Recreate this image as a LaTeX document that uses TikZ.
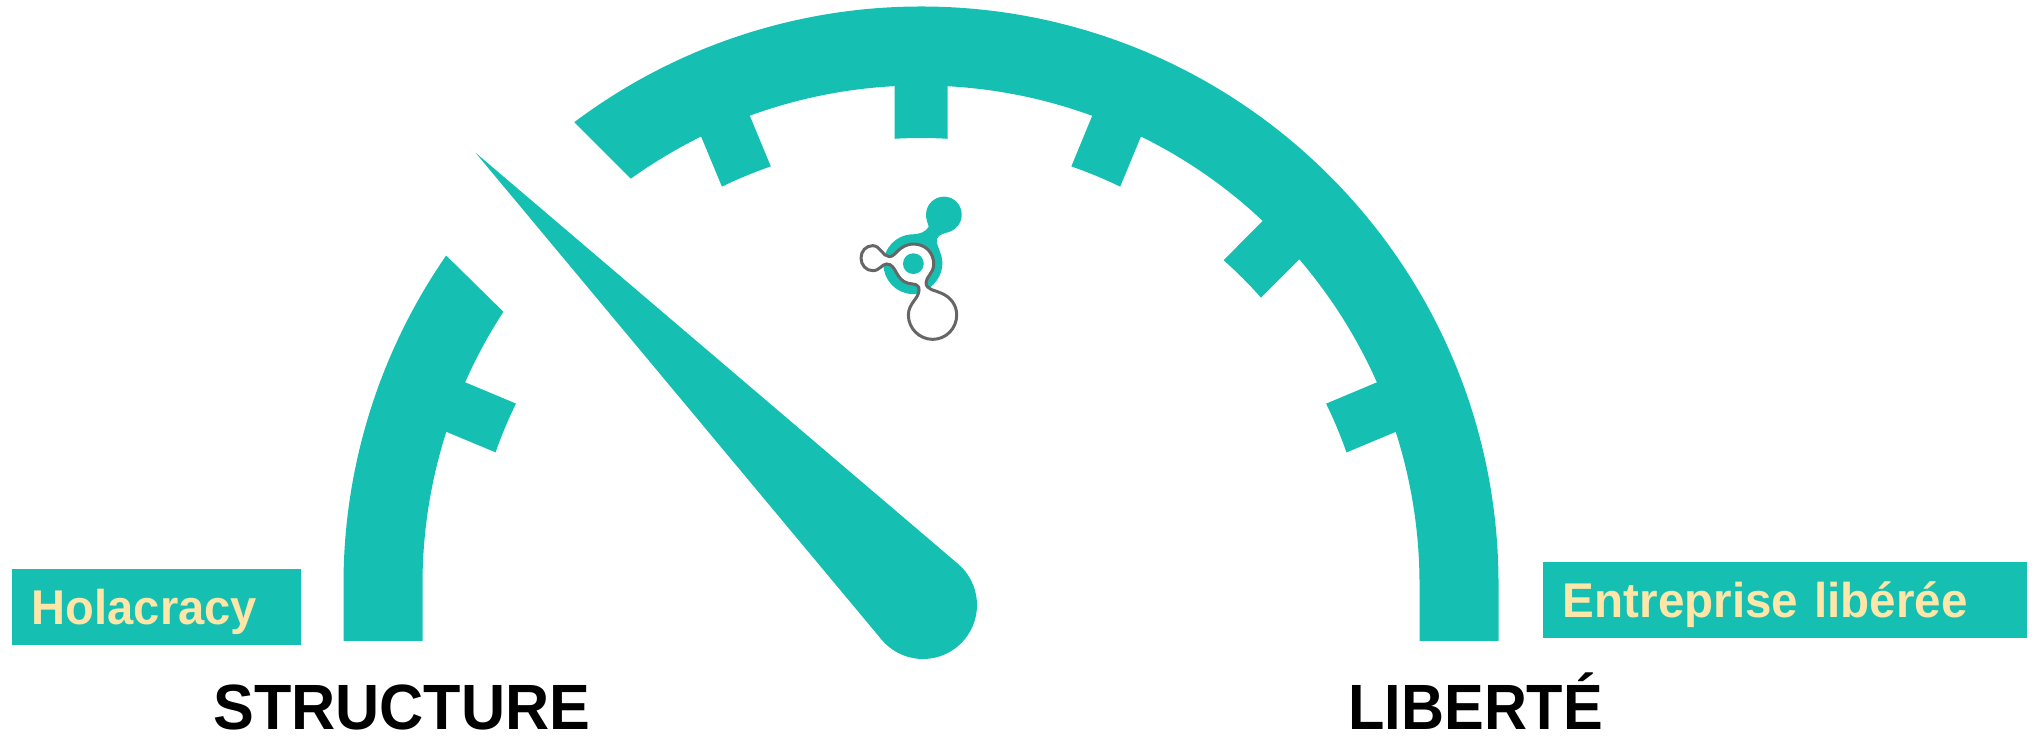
\documentclass[tikz,border=0pt]{standalone}
\usepackage{fontspec}
\usetikzlibrary{calc}
\setmainfont{Liberation Sans}
\definecolor{teal1}{HTML}{15C0B3}
\definecolor{cream}{HTML}{FDE6A8}
\definecolor{logogray}{HTML}{666666}
\tikzset{
  gauge/.style={fill=teal1,draw=none},
  tagbox/.style={fill=teal1,text=cream,inner ysep=0pt,inner xsep=10pt,anchor=base west,align=left,font=\fontsize{24.4}{28}\selectfont\bfseries,text height=28pt,text depth=10pt},
  axislabel/.style={inner sep=0pt,anchor=base west,text=black,font=\fontsize{32}{36}\selectfont\bfseries},
  tickmark/.pic={
    \fill[teal1] (80,-26.5) -- (-0.8,-26.5) arc[start angle=-3.4,end angle=3.4,radius=223pt] -- (80,26.5) -- cycle;
  }
}
\begin{document}
\begin{tikzpicture}[x=0.5pt,y=0.5pt]
\useasboundingbox (0,0) rectangle (2037,737);
% gauge arcs
\begin{scope}[shift={(921,153)}]
  \fill[gauge] (-577.5,-57) -- (-577.5,0) arc[start angle=180,end angle=145.3,radius=288.5pt]
     -- (146.9:498.5) arc[start angle=146.9,end angle=180,radius=249.25pt] -- (-498.5,-57) -- cycle;
  \fill[gauge] (577.5,-57) -- (577.5,0) arc[start angle=0,end angle=126.9,radius=288.75pt]
     -- (125.6:498.5) arc[start angle=125.6,end angle=0,radius=249.25pt] -- (498.5,-57) -- cycle;
  \foreach \px/\py/\a in {-416/156.3/157.3,-175/408.2/112.5,0/446/90,175/408.2/67.5,321.8/305.7/45,416/156.3/22.7}
    \pic[shift={(\px,\py)},rotate=\a] {tickmark};
\end{scope}
% needle
\fill[gauge] (475.5,584.3) -- ($(923,132)+(49.57:54)$) arc[start angle=49.57,end angle=-140.17,radius=27pt] -- cycle;
% logo
\begin{scope}[shift={(820,557)},x=0.1667pt,y=-0.1667pt]
  \fill[teal1] (318,104) .. controls (318,74) and (342,50) .. (372,50) .. controls (402,50) and (425,74) .. (425,104) .. controls (425,132) and (405,152) .. (380,158) .. controls (360,163) and (348,170) .. (350,188) .. controls (355,205) and (367,225) .. (367,250) .. controls (367,290) and (340,320) .. (310,335) .. controls (290,343) and (280,343) .. (275,342) .. controls (228,340) and (190,300) .. (190,252) .. controls (190,205) and (228,165) .. (275,163) .. controls (300,163) and (318,155) .. (326,140) .. controls (322,125) and (318,118) .. (318,104) -- cycle;
  \filldraw[fill=white,draw=logogray,line width=1.5pt] (158,197) .. controls (182,197) and (188,230) .. (208,230) .. controls (228,230) and (235,194) .. (280,192) .. controls (318,192) and (341,220) .. (341,252) .. controls (341,280) and (318,290) .. (318,308) .. controls (318,330) and (345,330) .. (365,340) .. controls (392,352) and (410,375) .. (410,405) .. controls (410,445) and (378,478) .. (338,478) .. controls (298,478) and (265,445) .. (265,405) .. controls (265,370) and (297,355) .. (297,330) .. controls (297,310) and (280,313) .. (265,310) .. controls (225,300) and (230,252) .. (200,252) .. controls (185,252) and (180,272) .. (158,272) .. controls (138,272) and (123,255) .. (123,234) .. controls (123,213) and (138,197) .. (158,197) -- cycle;
  \fill[teal1] (280,251) circle[radius=5.2pt];
\end{scope}
% labels
\node[tagbox,text width=124.75pt] (holacracy) at (11.5,112) {\scalebox{0.965}[1]{Holacracy}};
\node[tagbox,text width=222.25pt] (entreprise) at (1542.5,119) {\scalebox{0.975}[1]{Entreprise libérée}};
\node[axislabel] (structure) at (213,7.5) {\scalebox{0.955}[1]{STRUCTURE}};
\node[axislabel] (liberte) at (1348,7.5) {\scalebox{0.93}[1]{LIBERTÉ}};
\end{tikzpicture}
\end{document}
